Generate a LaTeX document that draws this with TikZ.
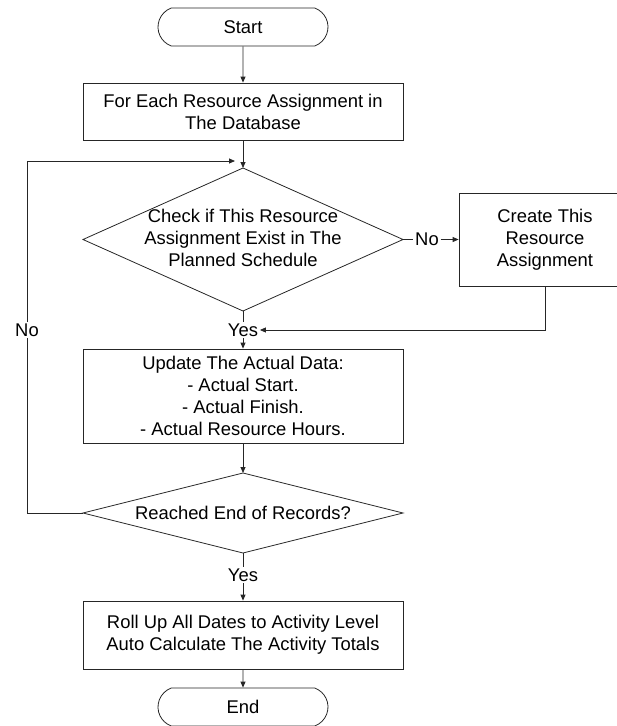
\documentclass[tikz,border=0pt]{standalone}
\usepackage{fontspec}
\setmainfont{Liberation Sans}
\usetikzlibrary{arrows.meta,shapes.misc}
\begin{document}
\begin{tikzpicture}[x=1pt,y=-1pt,
  line width=0.8pt, draw=black!85,
  every node/.style={font=\fontsize{18.4}{22}\selectfont, align=center},
  box/.style={draw=black!85, rectangle, minimum width=320pt, minimum height=#1, inner sep=0pt},
  term/.style={draw=black!85, rounded rectangle, rounded rectangle arc length=140, minimum width=170pt, minimum height=38pt, inner sep=0pt},
  arr/.style={-{Triangle[length=6pt,width=5pt]}},
  lbl/.style={inner sep=1.5pt}]
\useasboundingbox (0,0) rectangle (617,726);
\clip (0,0) rectangle (617,726);

% terminals and boxes
\node[term] (start) at (243,27) {Start};
\node[box=57pt] (b1) at (243,111.5) {For Each Resource Assignment in\\The Database};

% decision 1
\coordinate (d1t) at (243,168);
\coordinate (d1r) at (403,239.5);
\coordinate (d1b) at (243,311);
\coordinate (d1l) at (83,239.5);
\draw (d1t) -- (d1r) -- (d1b) -- (d1l) -- cycle;
\node (d1) at (243,238) {Check if This Resource\\Assignment Exist in The\\Planned Schedule};

\node[draw=black!85, rectangle, minimum width=172pt, minimum height=93pt, inner sep=0pt] (cr) at (545,239.5) {Create This\\Resource\\Assignment};

\node[lbl] (no1) at (427,239.5) {No};
\node[lbl] (yes1) at (243,330) {Yes};

\node[box=94pt] (b2) at (243,396) {Update The Actual Data:\\- Actual Start.\\- Actual Finish.\\- Actual Resource Hours.};

% decision 2
\coordinate (d2t) at (243,473);
\coordinate (d2r) at (403,513);
\coordinate (d2b) at (243,553);
\coordinate (d2l) at (83,513);
\draw (d2t) -- (d2r) -- (d2b) -- (d2l) -- cycle;
\node (d2) at (243,513) {Reached End of Records?};

\node[lbl] (yes2) at (243,575) {Yes};
\node[box=68pt] (b3) at (243,635) {Roll Up All Dates to Activity Level\\Auto Calculate The Activity Totals};
\node[term] (end) at (243,707) {End};

\node[lbl] (no2) at (27,330) {No};
\coordinate (loopend) at (235,161);

% connectors
\draw[arr] (start) -- (b1);
\draw[arr] (b1) -- (d1t);
\draw (d1r) -- (no1);
\draw[arr] (no1) -- (cr);
\draw[arr] (cr.south) |- (yes1.east);
\draw (d1b) -- (yes1);
\draw[arr] (yes1) -- (b2);
\draw[arr] (b2) -- (d2t);
\draw (d2l) -| (no2.south);
\draw[arr] (no2.north) |- (loopend);
\draw (d2b) -- (yes2);
\draw[arr] (yes2) -- (b3);
\draw[arr] (b3) -- (end);
\end{tikzpicture}
\end{document}
